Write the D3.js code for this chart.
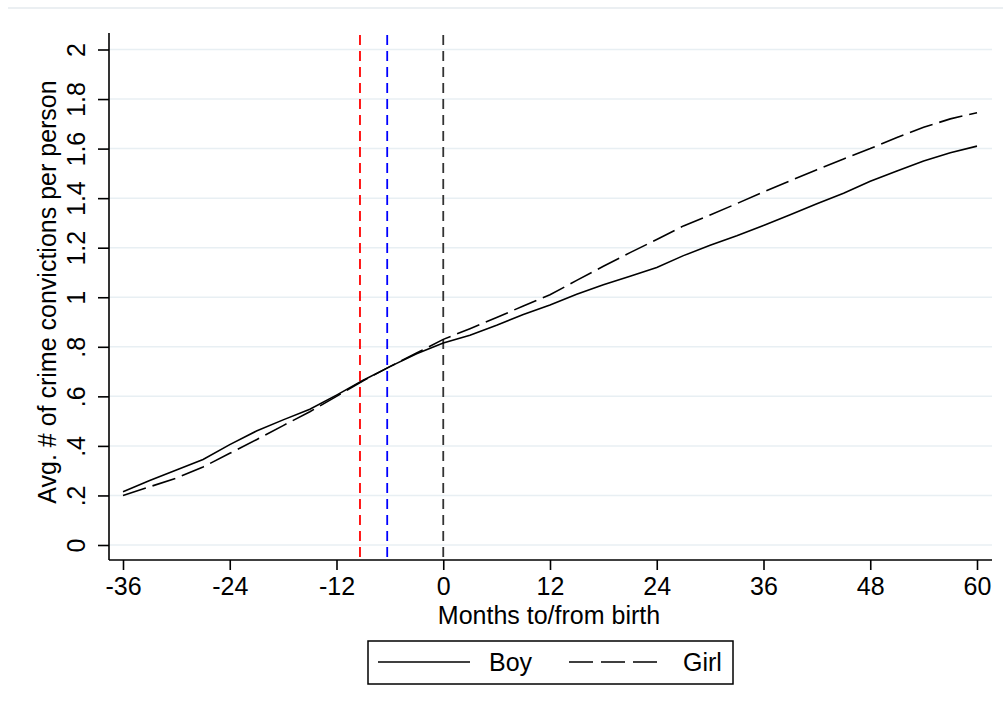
<!DOCTYPE html>
<html><head><meta charset="utf-8">
<script src="https://cdn.jsdelivr.net/npm/d3@7"></script>
<style>
html,body{margin:0;padding:0;background:#fff;}
svg text{font-family:"Liberation Sans",Arial,sans-serif;fill:#000;}
</style></head>
<body>
<svg id="chart" width="1003" height="713"></svg>
<script>
// ---- data ----
const months = [-36,-33,-30,-27,-24,-21,-18,-15,-12,-9,-6,-3,0,3,6,9,12,15,18,21,24,27,30,33,36,39,42,45,48,51,54,57,60];
const boy  = [0.215,0.26,0.303,0.345,0.405,0.46,0.505,0.548,0.605,0.665,0.72,0.772,0.815,0.847,0.887,0.93,0.969,1.012,1.05,1.085,1.12,1.168,1.21,1.248,1.29,1.333,1.377,1.42,1.468,1.51,1.55,1.583,1.61];
const girl = [0.20,0.235,0.27,0.315,0.37,0.425,0.482,0.538,0.60,0.663,0.72,0.775,0.83,0.873,0.918,0.965,1.01,1.068,1.125,1.18,1.233,1.288,1.332,1.378,1.425,1.47,1.515,1.558,1.60,1.645,1.686,1.72,1.745];
const xTicks = [-36,-24,-12,0,12,24,36,48,60];
const xTickLabels = ["-36","-24","-12","0","12","24","36","48","60"];
const yTicks = [0,0.2,0.4,0.6,0.8,1,1.2,1.4,1.6,1.8,2];
const yTickLabels = ["0",".2",".4",".6",".8","1","1.2","1.4","1.6","1.8","2"];
const refLines = [{m:-9.36,color:"#ff0000"},{m:-6.3,color:"#0000ff"},{m:0,color:"#333333"}];
const seriesNames = ["Boy","Girl"];
const xTitle = "Months to/from birth";
const yTitle = "Avg. # of crime convictions per person";

// ---- layout ----
const svg = d3.select("#chart");
const plotL = 109, plotR = 992, plotT = 33, plotB = 560;
const FS = 25;
const x = d3.scaleLinear().domain([-36,60]).range([123,977]);
const y = d3.scaleLinear().domain([0,2]).range([545,49.5]);

// faint frame line at top
svg.append("line").attr("x1",8).attr("x2",1003).attr("y1",8).attr("y2",8)
  .attr("stroke","#e4eaee").attr("stroke-width",1.5);

// gridlines
svg.append("g").selectAll("line").data(yTicks).join("line")
  .attr("x1",plotL).attr("x2",plotR)
  .attr("y1",d=>y(d)).attr("y2",d=>y(d))
  .attr("stroke","#e8eff3").attr("stroke-width",1.5);

// reference lines
svg.append("g").selectAll("line").data(refLines).join("line")
  .attr("x1",d=>x(d.m)).attr("x2",d=>x(d.m))
  .attr("y1",plotT+2).attr("y2",plotB)
  .attr("stroke",d=>d.color).attr("stroke-width",1.8)
  .attr("stroke-dasharray","10,6");

// series
const line = d3.line().x((d,i)=>x(months[i])).y(d=>y(d));
svg.append("path").datum(boy).attr("d",line)
  .attr("fill","none").attr("stroke","#000").attr("stroke-width",1.6);
svg.append("path").datum(girl).attr("d",line)
  .attr("fill","none").attr("stroke","#000").attr("stroke-width",1.6)
  .attr("stroke-dasharray","24,7");

// axes lines
svg.append("line").attr("x1",plotL).attr("x2",plotL).attr("y1",plotT).attr("y2",plotB)
  .attr("stroke","#000").attr("stroke-width",1.6);
svg.append("line").attr("x1",plotL).attr("x2",plotR).attr("y1",plotB).attr("y2",plotB)
  .attr("stroke","#000").attr("stroke-width",1.6);

// y axis ticks & labels
const yAxis = d3.axisLeft(y).tickValues(yTicks).tickSize(11).tickSizeOuter(0)
  .tickFormat((d,i)=>yTickLabels[i]);
const gy = svg.append("g").attr("transform",`translate(${plotL},0)`).call(yAxis);
gy.select(".domain").remove();
gy.selectAll(".tick line").attr("stroke","#000").attr("stroke-width",1.6);
gy.selectAll(".tick text").attr("x",0).attr("dy",0).attr("text-anchor","middle")
  .attr("transform","translate(-24,0) rotate(-90)")
  .attr("font-size",FS).attr("font-family","Liberation Sans, Arial, sans-serif");

// x axis ticks & labels
const xAxis = d3.axisBottom(x).tickValues(xTicks).tickSize(10).tickSizeOuter(0)
  .tickFormat((d,i)=>xTickLabels[i]);
const gx = svg.append("g").attr("transform",`translate(0,${plotB})`).call(xAxis);
gx.select(".domain").remove();
gx.selectAll(".tick line").attr("stroke","#000").attr("stroke-width",1.6);
gx.selectAll(".tick text").attr("y",35).attr("dy",0)
  .attr("font-size",FS).attr("font-family","Liberation Sans, Arial, sans-serif");

// axis titles
svg.append("text").attr("x",549).attr("y",624).attr("text-anchor","middle")
  .attr("font-size",FS).text(xTitle);
svg.append("text").attr("transform",`translate(56,292) rotate(-90)`)
  .attr("text-anchor","middle").attr("font-size",FS).text(yTitle);

// legend
const lg = svg.append("g");
lg.append("rect").attr("x",368).attr("y",641).attr("width",365).attr("height",43)
  .attr("fill","#fff").attr("stroke","#000").attr("stroke-width",1.5);
lg.append("line").attr("x1",378).attr("x2",470).attr("y1",662).attr("y2",662)
  .attr("stroke","#000").attr("stroke-width",1.6);
lg.append("text").attr("x",489).attr("y",671).attr("font-size",FS).text(seriesNames[0]);
lg.append("line").attr("x1",569).attr("x2",663).attr("y1",662).attr("y2",662)
  .attr("stroke","#000").attr("stroke-width",1.6).attr("stroke-dasharray","24,8");
lg.append("text").attr("x",683).attr("y",671).attr("font-size",FS).text(seriesNames[1]);
</script>
</body></html>
